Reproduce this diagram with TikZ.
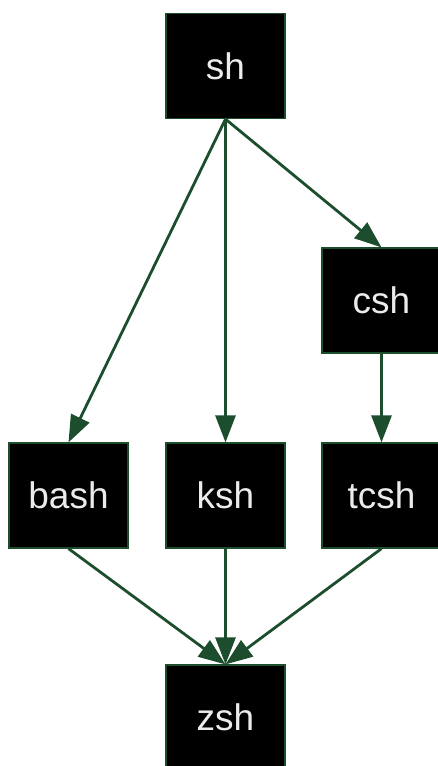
\documentclass[tikz,border=0pt]{standalone}
\usepackage{fontspec}
\setmainfont{Liberation Sans}
\usetikzlibrary{arrows.meta}
\definecolor{edgegreen}{HTML}{1C4D2C}
\tikzset{
  shellbox/.style={draw=edgegreen, line width=1.2pt, fill=black, text=white!92!black,
    minimum width=119pt, minimum height=105pt, inner sep=0pt, anchor=center,
    font=\fontsize{37}{40}\selectfont},
  link/.style={draw=edgegreen, line width=2.8pt,
    -{Triangle[length=27pt,width=20pt]}}
}
\begin{document}
\begin{tikzpicture}[x=1pt,y=-1pt]
  \useasboundingbox (0,0) rectangle (437,766);
  \node[shellbox] (sh)   at (225.5,66)    {sh};
  \node[shellbox] (csh)  at (381.5,300.5) {csh};
  \node[shellbox] (bash) at (68.5,495.5)  {bash};
  \node[shellbox] (ksh)  at (225.5,495.5) {ksh};
  \node[shellbox] (tcsh) at (381.5,495.5) {tcsh};
  \node[shellbox] (zsh)  at (225.5,717.5) {zsh};
  \draw[link] (sh.south) -- (bash.north);
  \draw[link] (sh.south) -- (ksh.north);
  \draw[link] (sh.south) -- (csh.north);
  \draw[link] (csh.south) -- (tcsh.north);
  \draw[link] (bash.south) -- (zsh.north);
  \draw[link] (ksh.south) -- (zsh.north);
  \draw[link] (tcsh.south) -- (zsh.north);
\end{tikzpicture}
\end{document}
